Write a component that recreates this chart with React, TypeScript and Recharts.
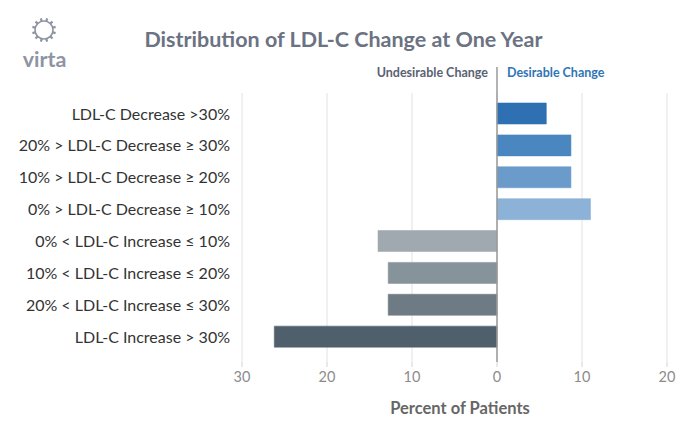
import React from "react";
import {
  BarChart,
  Bar,
  XAxis,
  YAxis,
  CartesianGrid,
  ReferenceLine,
  Cell,
} from "recharts";

const categories = [
  "LDL-C Decrease >30%",
  "20% > LDL-C Decrease \u2265 30%",
  "10% > LDL-C Decrease \u2265 20%",
  "0% > LDL-C Decrease \u2265 10%",
  "0% < LDL-C Increase \u2264 10%",
  "10% < LDL-C Increase \u2264 20%",
  "20% < LDL-C Increase \u2264 30%",
  "LDL-C Increase > 30%",
];

// negative = undesirable (increase), positive = desirable (decrease)
const percents = [5.8, 8.7, 8.7, 11.0, -14.0, -12.8, -12.8, -26.2];

const barColors = [
  "#2e70b2",
  "#4a86bf",
  "#6a9bcb",
  "#8cb2d7",
  "#a1a9b0",
  "#87939a",
  "#6e7b84",
  "#4f606c",
];

const xTicks = [-30, -20, -10, 0, 10, 20];

const data = categories.map((label, i) => ({ label, value: percents[i] }));

const FONT = "Lato, 'Open Sans', sans-serif";

// zero line that runs up past the plot, with the two side captions
function ZeroLine(props: any) {
  const top = Math.min(props.y1, props.y2);
  const bottom = Math.max(props.y1, props.y2);
  const x = props.x1;
  return (
    <g>
      <line x1={x} x2={x} y1={top - 26} y2={bottom} stroke="#9a9a9a" strokeWidth={1.5} />
      <text
        x={x - 9}
        y={top - 16}
        textAnchor="end"
        fontFamily={FONT}
        fontWeight={700}
        fontSize={12.5}
        fill="#5a6172"
      >
        Undesirable Change
      </text>
      <text
        x={x + 10}
        y={top - 16}
        textAnchor="start"
        fontFamily={FONT}
        fontWeight={700}
        fontSize={12.5}
        fill="#2e75b6"
      >
        Desirable Change
      </text>
    </g>
  );
}

function Logo() {
  const spikes = [];
  for (let i = 0; i < 12; i++) {
    const a = (i * Math.PI) / 6 + Math.PI / 12;
    spikes.push(
      <line
        key={i}
        x1={44 + Math.cos(a) * 9}
        y1={30 + Math.sin(a) * 9}
        x2={44 + Math.cos(a) * 12}
        y2={30 + Math.sin(a) * 12}
        stroke="#8e94a3"
        strokeWidth={2.2}
      />
    );
  }
  return (
    <svg width={90} height={75} style={{ position: "absolute", left: 0, top: 0 }}>
      <circle cx={44} cy={30} r={9} fill="none" stroke="#8e94a3" strokeWidth={1.6} />
      {spikes}
      <text x={44.5} y={67} textAnchor="middle" fontFamily={FONT} fontWeight={700} fontSize={21.5} fill="#8e94a3">
        virta
      </text>
    </svg>
  );
}

export default function App() {
  return (
    <div
      style={{
        position: "absolute",
        left: 0,
        top: 0,
        width: 690,
        height: 435,
        background: "#fff",
        fontFamily: FONT,
      }}
    >
      <Logo />
      <div
        style={{
          position: "absolute",
          left: 0,
          width: 687,
          top: 26,
          textAlign: "center",
          fontSize: 21.5,
          fontWeight: 700,
          color: "#6b7282",
        }}
      >
        Distribution of LDL-C Change at One Year
      </div>
      <div
        style={{
          position: "absolute",
          left: 242,
          width: 436,
          top: 398,
          textAlign: "center",
          fontSize: 16.5,
          fontWeight: 700,
          color: "#666",
        }}
      >
        Percent of Patients
      </div>
      <div style={{ position: "absolute", left: 0, top: 0 }}>
        <BarChart
          width={690}
          height={435}
          data={data}
          layout="vertical"
          margin={{ top: 93, right: 23, bottom: 43, left: 0 }}
        >
          <CartesianGrid horizontal={false} stroke="#e2e2e2" />
          <XAxis
            type="number"
            domain={[-30, 20]}
            ticks={xTicks}
            tickFormatter={(v: number) => String(Math.abs(v))}
            axisLine={false}
            tickLine={{ stroke: "#d4d4d4" }}
            tickSize={5}
            tickMargin={5}
            height={30}
            tick={{ fill: "#8c8c8c", fontSize: 14.5, fontFamily: FONT }}
          />
          <YAxis
            type="category"
            dataKey="label"
            width={242}
            axisLine={false}
            tickLine={false}
            tickSize={0}
            tickMargin={12}
            padding={{ top: 5, bottom: 9 }}
            interval={0}
            tick={{ fill: "#333", fontSize: 16, fontFamily: FONT }}
          />
          <Bar dataKey="value" barSize={21} isAnimationActive={false}>
            {data.map((d, i) => (
              <Cell key={d.label} fill={barColors[i]} stroke={barColors[i]} strokeOpacity={0.55} />
            ))}
          </Bar>
          <ReferenceLine x={0} shape={(p: any) => <ZeroLine {...p} />} />
        </BarChart>
      </div>
    </div>
  );
}
